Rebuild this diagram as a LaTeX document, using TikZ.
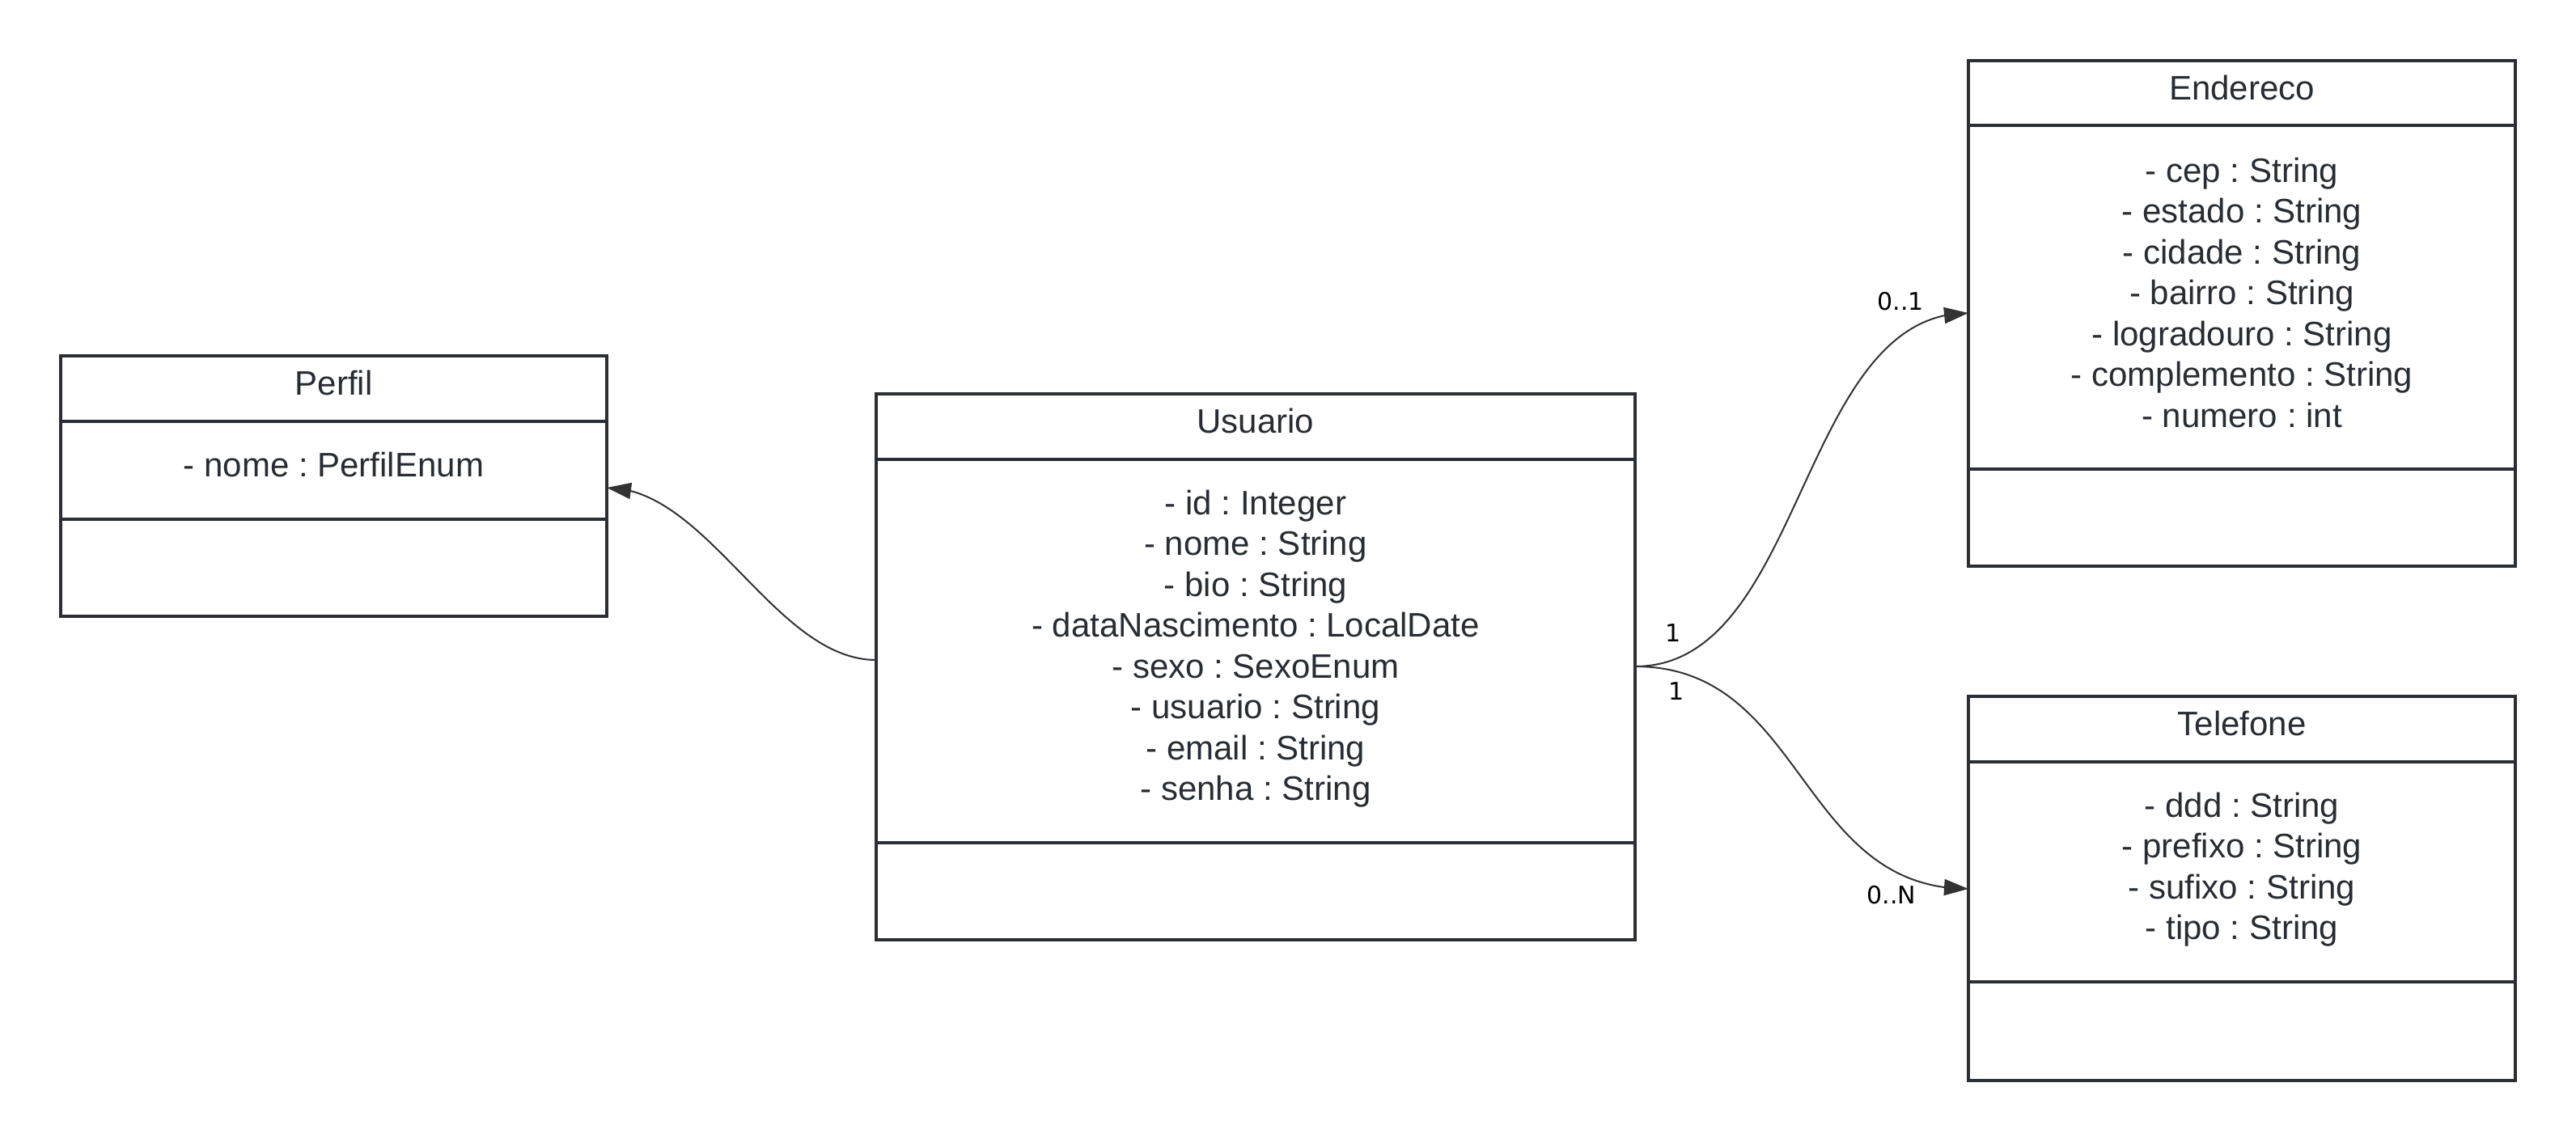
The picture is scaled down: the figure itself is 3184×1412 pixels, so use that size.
\documentclass[tikz,border=0pt]{standalone}
\usepackage{fontspec}
\setmainfont{Liberation Sans}
\newfontfamily\labelfont{DejaVu Sans}
\usetikzlibrary{arrows.meta,bending}
\definecolor{linec}{HTML}{2B2E35}
\definecolor{textc}{HTML}{282C33}
\definecolor{connc}{HTML}{333333}
\frenchspacing
\tikzset{
  part/.style={draw=linec, line width=3.5pt, inner sep=0pt, outer sep=0pt,
    anchor=north west},
  txt/.style={inner sep=0pt, align=center, text=textc,
    font=\frenchspacing\fontsize{42}{50.5}\selectfont},
  conn/.style={draw=connc, line width=2pt, -{Triangle[length=30pt,width=20pt,flex]}},
  mult/.style={inner sep=0pt, text=black, font=\labelfont\fontsize{30}{36}\selectfont}
}
\begin{document}
\begin{tikzpicture}[x=1pt,y=-1pt]
\useasboundingbox[fill=white] (0,0) rectangle (3184,1412);
% Perfil
\node[part, minimum width=675pt, minimum height=81pt] (ph) at (75,440) {};
\node[part, minimum width=675pt, minimum height=121pt] (pa) at (ph.south west) {};
\node[part, minimum width=675pt, minimum height=120pt] (pm) at (pa.south west) {};
\node[txt, yshift=7pt] (pht) at (ph.center) {Perfil};
\node[txt, yshift=7pt] (pat) at (pa.center) {- nome : PerfilEnum};
% Usuario
\node[part, minimum width=938pt, minimum height=81pt] (uh) at (1083,487) {};
\node[part, minimum width=938pt, minimum height=474pt] (ua) at (uh.south west) {};
\node[part, minimum width=938pt, minimum height=120pt] (um) at (ua.south west) {};
\node[txt, yshift=7pt] (uht) at (uh.center) {Usuario};
\node[txt, yshift=3pt] (uat) at (ua.center)
  {- id : Integer\\- nome : String\\- bio : String\\- dataNascimento : LocalDate\\- sexo : SexoEnum\\- usuario : String\\- email : String\\- senha : String};
% Endereco
\node[part, minimum width=676pt, minimum height=80pt] (eh) at (2433,75) {};
\node[part, minimum width=676pt, minimum height=425pt] (ea) at (eh.south west) {};
\node[part, minimum width=676pt, minimum height=120pt] (em) at (ea.south west) {};
\node[txt, yshift=7pt] (eht) at (eh.center) {Endereco};
\node[txt, yshift=6pt] (eat) at (ea.center)
  {- cep : String\\- estado : String\\- cidade : String\\- bairro : String\\- logradouro : String\\- complemento : String\\- numero : int};
% Telefone
\node[part, minimum width=676pt, minimum height=81pt] (th) at (2433,861) {};
\node[part, minimum width=676pt, minimum height=272pt] (ta) at (th.south west) {};
\node[part, minimum width=676pt, minimum height=122pt] (tm) at (ta.south west) {};
\node[txt, yshift=7pt] (tht) at (th.center) {Telefone};
\node[txt, yshift=3pt] (tat) at (ta.center)
  {- ddd : String\\- prefixo : String\\- sufixo : String\\- tipo : String};
% connectors
\draw[conn] ([yshift=-11pt]ua.west) .. controls +(-125,0) and +(125,0) .. ([yshift=-21.5pt]pa.east);
\draw[conn] ([yshift=-19pt]ua.east) .. controls +(210,0) and +(-210,0) .. ([yshift=-19.5pt]ea.west);
\draw[conn] ([yshift=-19pt]ua.east) .. controls +(210,0) and +(-210,0) .. ([yshift=-21pt]ta.west);
% multiplicities
\node[mult] (m1) at (2349,373) {0..1};
\node[mult] (m2) at (2068,783) {1};
\node[mult] (m3) at (2072,855) {1};
\node[mult] (m4) at (2338,1107) {0..N};
\end{tikzpicture}
\end{document}
